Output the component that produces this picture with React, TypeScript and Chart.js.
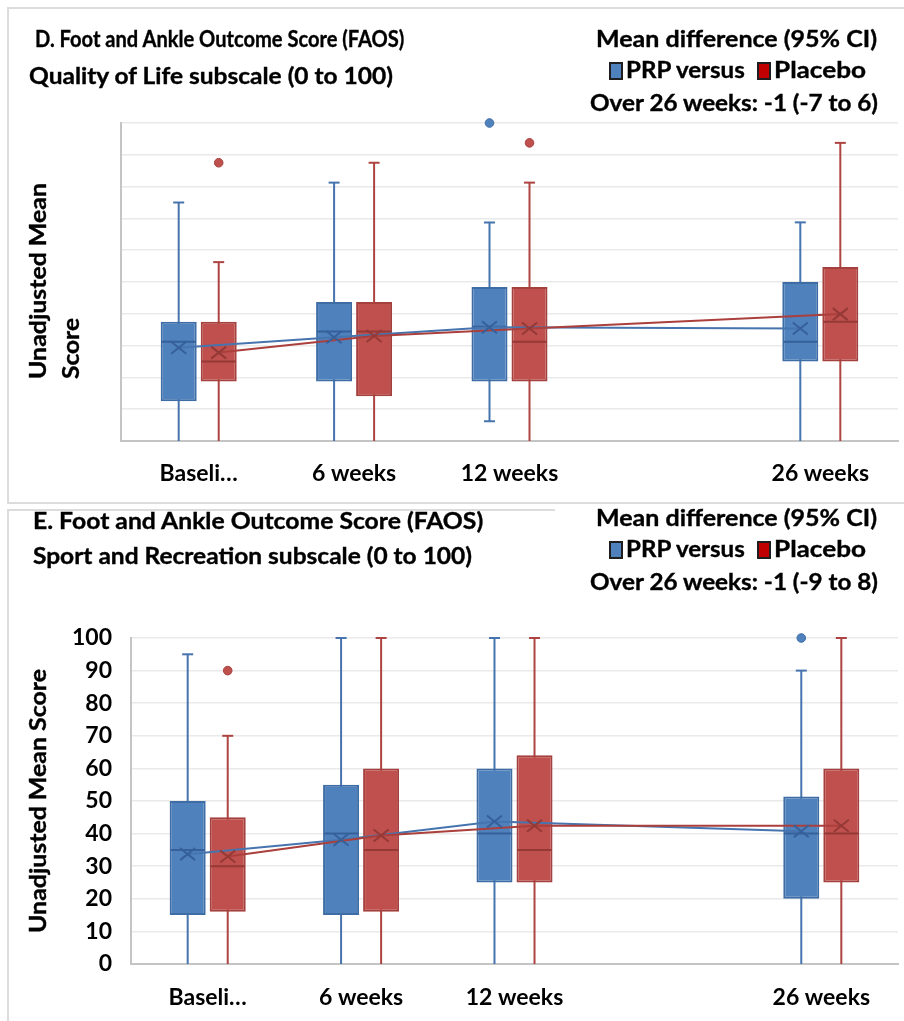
import React, { useEffect, useRef } from 'react';
import { Chart, registerables } from 'chart.js';

Chart.register(...registerables);

// ---------- data ----------
const categories = ['Baseli…', '6 weeks', '12 weeks', '', '26 weeks'];

// Panel D: FAOS Quality of Life subscale
const dPrpMin = [0, 0, 6.25, null, 0];
const dPrpQ1 = [12.5, 18.75, 18.75, null, 25];
const dPrpMedian = [31.25, 34.4, 35.9, null, 31.25];
const dPrpQ3 = [37.5, 43.75, 48.4, null, 50];
const dPrpMax = [75, 81.25, 68.75, null, 68.75];
const dPrpMean = [29.3, 32.6, 35.8, null, 35.4];
const dPrpOutliers = [[], [], [100], [], []];

const dPlaMin = [0, 0, 0, null, 0];
const dPlaQ1 = [18.75, 14.1, 18.75, null, 25];
const dPlaMedian = [25, 34.4, 31.25, null, 37.5];
const dPlaQ3 = [37.5, 43.75, 48.4, null, 54.7];
const dPlaMax = [56.25, 87.5, 81.25, null, 93.75];
const dPlaMean = [27.8, 33, 35.4, null, 39.9];
const dPlaOutliers = [[87.5], [], [93.75], [], []];

// Panel E: FAOS Sport and Recreation subscale
const ePrpMin = [0, 0, 0, null, 0];
const ePrpQ1 = [15, 15, 25, null, 20];
const ePrpMedian = [35, 40, 40, null, 40];
const ePrpQ3 = [50, 55, 60, null, 51.4];
const ePrpMax = [95, 100, 100, null, 90];
const ePrpMean = [33.7, 38.1, 43.7, null, 40.7];
const ePrpOutliers = [[], [], [], [], [100]];

const ePlaMin = [0, 0, 0, null, 0];
const ePlaQ1 = [16, 16, 25, null, 25];
const ePlaMedian = [30, 35, 35, null, 40];
const ePlaQ3 = [45, 60, 64, null, 60];
const ePlaMax = [70, 100, 100, null, 100];
const ePlaMean = [33, 39.4, 42.4, null, 42.4];
const ePlaOutliers = [[90], [], [], [], []];

// ---------- styles ----------
const PRP_C = { fill: '#4F81BD', border: '#3E6DA6', dark: '#36609A', whisker: '#4674AE', line: '#4674AE' };
const PLA_C = { fill: '#C0504D', border: '#A4403D', dark: '#943936', whisker: '#AE4441', line: '#AA3F3C' };
const FONT = 'Lato';

type Num = number | null;
type Group = {
  min: Num[]; q1: Num[]; median: Num[]; q3: Num[]; max: Num[]; mean: Num[];
  outliers: number[][]; c: typeof PRP_C;
};

function makeBoxPlugin(groups: Group[]) {
  return {
    id: 'boxExtras',
    beforeDatasetsDraw(chart: any) {
      const ctx = chart.ctx;
      const y = chart.scales.y;
      groups.forEach((g, di) => {
        const meta = chart.getDatasetMeta(di);
        meta.data.forEach((el: any, i: number) => {
          const lo = g.min[i];
          const hi = g.max[i];
          if (lo == null || hi == null) return;
          const x = el.x;
          ctx.save();
          ctx.strokeStyle = g.c.whisker;
          ctx.lineWidth = 2;
          ctx.beginPath();
          ctx.moveTo(x, y.getPixelForValue(lo));
          ctx.lineTo(x, y.getPixelForValue(hi));
          ctx.stroke();
          ctx.beginPath();
          [lo, hi].forEach((v) => {
            if (v > y.min) {
              const py = y.getPixelForValue(v);
              ctx.moveTo(x - 5.5, py);
              ctx.lineTo(x + 5.5, py);
            }
          });
          ctx.stroke();
          ctx.restore();
        });
      });
    },
    afterDatasetsDraw(chart: any) {
      const ctx = chart.ctx;
      const y = chart.scales.y;
      // medians
      groups.forEach((g, di) => {
        const meta = chart.getDatasetMeta(di);
        meta.data.forEach((el: any, i: number) => {
          const m = g.median[i];
          if (m == null) return;
          const py = y.getPixelForValue(m);
          const hw = el.width / 2 - 1;
          ctx.save();
          ctx.strokeStyle = g.c.dark;
          ctx.lineWidth = 2;
          ctx.beginPath();
          ctx.moveTo(el.x - hw, py);
          ctx.lineTo(el.x + hw, py);
          ctx.stroke();
          ctx.restore();
        });
      });
      // mean lines
      groups.forEach((g, di) => {
        const meta = chart.getDatasetMeta(di);
        ctx.save();
        ctx.strokeStyle = g.c.line;
        ctx.lineWidth = 2;
        ctx.beginPath();
        let started = false;
        meta.data.forEach((el: any, i: number) => {
          const m = g.mean[i];
          if (m == null) return;
          const py = y.getPixelForValue(m);
          if (!started) { ctx.moveTo(el.x, py); started = true; } else ctx.lineTo(el.x, py);
        });
        ctx.stroke();
        ctx.restore();
      });
      // mean markers
      groups.forEach((g, di) => {
        const meta = chart.getDatasetMeta(di);
        meta.data.forEach((el: any, i: number) => {
          const m = g.mean[i];
          if (m == null) return;
          const py = y.getPixelForValue(m);
          const s = 7.5;
          ctx.save();
          ctx.strokeStyle = g.c.dark;
          ctx.lineWidth = 2;
          ctx.beginPath();
          ctx.moveTo(el.x - s, py - s * 0.8);
          ctx.lineTo(el.x + s, py + s * 0.8);
          ctx.moveTo(el.x - s, py + s * 0.8);
          ctx.lineTo(el.x + s, py - s * 0.8);
          ctx.stroke();
          ctx.restore();
        });
      });
      // outliers
      groups.forEach((g, di) => {
        const meta = chart.getDatasetMeta(di);
        meta.data.forEach((el: any, i: number) => {
          (g.outliers[i] || []).forEach((v) => {
            const py = y.getPixelForValue(v);
            ctx.save();
            ctx.fillStyle = g.c.fill;
            ctx.strokeStyle = g.c.border;
            ctx.lineWidth = 1;
            ctx.beginPath();
            ctx.arc(el.x, py, 4.3, 0, Math.PI * 2);
            ctx.fill();
            ctx.stroke();
            ctx.restore();
          });
        });
      });
    },
  };
}

function boxes(q1: Num[], q3: Num[]) {
  return q1.map((v, i) => (v == null || q3[i] == null ? null : [v, q3[i]]));
}

type PanelProps = {
  top: number; height: number; padTop: number; padRight: number;
  xH: number; xPad: number; yW: number; yPad: number; showY: boolean;
  catPct: number; prp: Group; pla: Group;
};

function BoxChart(p: PanelProps) {
  const ref = useRef<HTMLCanvasElement>(null);
  useEffect(() => {
    const chart = new Chart(ref.current as HTMLCanvasElement, {
      type: 'bar',
      data: {
        labels: categories,
        datasets: [
          {
            label: 'PRP',
            data: boxes(p.prp.q1, p.prp.q3) as any,
            backgroundColor: PRP_C.fill,
            borderColor: PRP_C.border,
            borderWidth: 2,
            borderSkipped: false,
          },
          {
            label: 'Placebo',
            data: boxes(p.pla.q1, p.pla.q3) as any,
            backgroundColor: PLA_C.fill,
            borderColor: PLA_C.border,
            borderWidth: 2,
            borderSkipped: false,
          },
        ],
      },
      options: {
        responsive: false,
        animation: false,
        events: [],
        categoryPercentage: p.catPct,
        barPercentage: 0.9,
        layout: { padding: { top: p.padTop, right: p.padRight, bottom: 0, left: 0 } },
        plugins: { legend: { display: false }, tooltip: { enabled: false }, title: { display: false } },
        scales: {
          x: {
            grid: { display: false, drawTicks: false },
            border: { color: '#C4C4C4', width: 2 },
            ticks: {
              autoSkip: false, maxRotation: 0, padding: p.xPad, color: '#000',
              font: { family: FONT, weight: 'bold', size: 23 },
            },
            afterFit: (s: any) => { s.height = p.xH; },
          },
          y: {
            min: 0, max: 100,
            ticks: {
              stepSize: 10, display: p.showY, padding: p.yPad, color: '#000',
              font: { family: FONT, weight: 'bold', size: 23 },
            },
            grid: { color: '#EAEAEA', lineWidth: 1.5, drawTicks: false },
            border: { color: '#C4C4C4', width: 2 },
            afterFit: (s: any) => { s.width = p.yW; },
          },
        },
      } as any,
      plugins: [makeBoxPlugin([p.prp, p.pla])],
    });
    return () => chart.destroy();
  }, []);
  return (
    <canvas
      ref={ref}
      width={904}
      height={p.height}
      style={{ position: 'absolute', left: 0, top: p.top, width: 904, height: p.height }}
    />
  );
}

let measureCtx: CanvasRenderingContext2D | null = null;
function measure(text: string, size: number) {
  if (!measureCtx) measureCtx = document.createElement('canvas').getContext('2d');
  measureCtx!.font = `bold ${size}px ${FONT}`;
  return measureCtx!.measureText(text).width;
}

const STROKE = '0.35px #000';

function FitText({ text, x, cy, w, size = 22 }: { text: string; x: number; cy: number; w: number; size?: number }) {
  const sx = w / measure(text, size);
  return (
    <div
      style={{
        position: 'absolute', left: x, top: cy - size * 0.55, fontFamily: FONT, fontWeight: 700,
        fontSize: size, lineHeight: `${size}px`, whiteSpace: 'nowrap', color: '#000',
        transform: `scaleX(${sx})`, transformOrigin: '0 0', WebkitTextStroke: STROKE,
      }}
    >
      {text}
    </div>
  );
}

function RotText({ text, cx, bottom, len, size = 22 }: { text: string; cx: number; bottom: number; len: number; size?: number }) {
  const lh = 30;
  const sx = len / measure(text, size);
  return (
    <div
      style={{
        position: 'absolute', left: cx - lh / 2, top: bottom, fontFamily: FONT, fontWeight: 700,
        fontSize: size, lineHeight: `${lh}px`, height: lh, whiteSpace: 'nowrap', color: '#000',
        transform: `rotate(-90deg) scaleX(${sx})`, transformOrigin: '0 0', WebkitTextStroke: STROKE,
      }}
    >
      {text}
    </div>
  );
}

function Square({ x, y, color }: { x: number; y: number; color: string }) {
  return (
    <div
      style={{
        position: 'absolute', left: x, top: y, width: 10, height: 14, background: color,
        border: '2px solid #1E1E1E',
      }}
    />
  );
}

function MeanDiff({ top, ci }: { top: number; ci: string }) {
  return (
    <>
      <FitText text="Mean difference (95% CI)" x={596} cy={top} w={281} />
      <Square x={609} y={top + 22} color="#4F81BD" />
      <FitText text="PRP versus" x={626} cy={top + 31} w={120} />
      <Square x={757} y={top + 22} color="#C00000" />
      <FitText text="Placebo" x={774} cy={top + 31} w={92} />
      <FitText text={`Over 26 weeks: ${ci}`} x={590} cy={top + 64} w={289} />
    </>
  );
}

const dPrp: Group = { min: dPrpMin, q1: dPrpQ1, median: dPrpMedian, q3: dPrpQ3, max: dPrpMax, mean: dPrpMean, outliers: dPrpOutliers, c: PRP_C };
const dPla: Group = { min: dPlaMin, q1: dPlaQ1, median: dPlaMedian, q3: dPlaQ3, max: dPlaMax, mean: dPlaMean, outliers: dPlaOutliers, c: PLA_C };
const ePrp: Group = { min: ePrpMin, q1: ePrpQ1, median: ePrpMedian, q3: ePrpQ3, max: ePrpMax, mean: ePrpMean, outliers: ePrpOutliers, c: PRP_C };
const ePla: Group = { min: ePlaMin, q1: ePlaQ1, median: ePlaMedian, q3: ePlaQ3, max: ePlaMax, mean: ePlaMean, outliers: ePlaOutliers, c: PLA_C };

export default function App() {
  return (
    <div style={{ position: 'absolute', left: 0, top: 0, width: 904, height: 1021, overflow: 'hidden', background: '#fff' }}>
      {/* panel borders */}
      <div style={{ position: 'absolute', left: 7, top: 7, width: 910, height: 493, border: '2px solid #DCDCDC' }} />
      <div style={{ position: 'absolute', left: 7, top: 509, width: 548, height: 2, background: '#DCDCDC' }} />
      <div style={{ position: 'absolute', left: 7, top: 509, width: 2, height: 520, background: '#DCDCDC' }} />

      <BoxChart top={0} height={505} padTop={123} padRight={6} xH={64} xPad={19} yW={121} yPad={19} showY={false} catPct={0.515} prp={dPrp} pla={dPla} />
      <BoxChart top={505} height={516} padTop={133} padRight={6} xH={57} xPad={20} yW={131} yPad={19} showY={true} catPct={0.522} prp={ePrp} pla={ePla} />

      {/* Panel D texts */}
      <FitText text="D. Foot and Ankle Outcome Score (FAOS)" x={35} cy={40} w={370} />
      <FitText text="Quality of Life subscale (0 to 100)" x={29} cy={77} w={365} />
      <MeanDiff top={40} ci="-1 (-7 to 6)" />
      <RotText text="Unadjusted Mean" cx={38} bottom={379} len={196} />
      <RotText text="Score" cx={71} bottom={379} len={61} />

      {/* Panel E texts */}
      <FitText text="E. Foot and Ankle Outcome Score (FAOS)" x={33} cy={522} w={451} />
      <FitText text="Sport and Recreation subscale (0 to 100)" x={33} cy={557} w={439} />
      <MeanDiff top={519} ci="-1 (-9 to 8)" />
      <RotText text="Unadjusted Mean Score" cx={38} bottom={933} len={264} />
    </div>
  );
}
